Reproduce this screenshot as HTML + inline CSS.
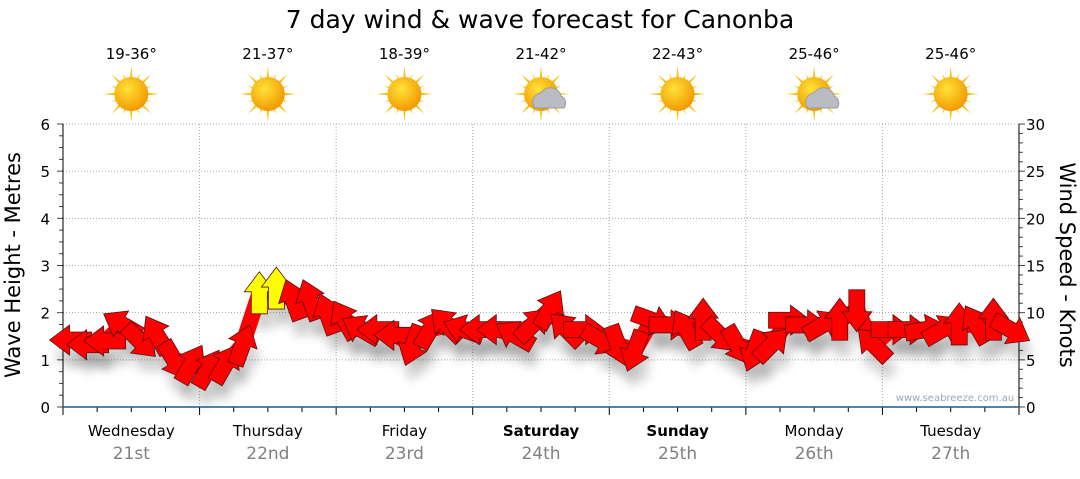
<!DOCTYPE html>
<html><head><meta charset="utf-8"><style>
body{margin:0;background:#fff;width:1080px;height:475px;overflow:hidden;font-family:"DejaVu Sans","Liberation Sans",sans-serif}
</style></head><body>
<svg id="c" width="1080" height="475">
<defs>
<filter id="sh" x="-50%" y="-50%" width="200%" height="200%"><feGaussianBlur stdDeviation="5"/></filter>
<radialGradient id="sun" cx="40%" cy="35%" r="65%"><stop offset="0" stop-color="#ffe23a"/><stop offset="1" stop-color="#f29a00"/></radialGradient>
</defs>
<text x="540" y="28" font-size="25" text-anchor="middle" fill="#000">7 day wind &amp; wave forecast for Canonba</text>
<g id="topg"></g>
<g id="grid"></g>
<g id="axes"></g>
<g id="marks"></g>
<text x="955" y="401" font-size="10" fill="#9aa8b8" text-anchor="middle">www.seabreeze.com.au</text>
<text transform="translate(20,265) rotate(-90)" font-size="21" text-anchor="middle" fill="#000">Wave Height - Metres</text>
<text transform="translate(1060,265) rotate(90)" font-size="21" text-anchor="middle" fill="#000">Wind Speed - Knots</text>
</svg>
<script>
const days=["Wednesday","Thursday","Friday","Saturday","Sunday","Monday","Tuesday"];
const dates=["21st","22nd","23rd","24th","25th","26th","27th"];
const temps=["19-36°","21-37°","18-39°","21-42°","22-43°","25-46°","25-46°"];
const cloudy=[0,0,0,1,0,1,0];
const boldDays=[0,0,0,1,1,0,0];
const waveTicks=[0,1,2,3,4,5,6];
const windTicks=[0,5,10,15,20,25,30];
// wind speed (knots), 3-hourly
const windSpeed=[7.1,6.6,7,8.7,7,7.6,5,4.5, 4,4.5,6.5,12,12.5,11.3,11.3,9.8, 9.2,8.2,8.2,7.6,6.6,8.2,8.7,8.2, 8.2,8.2,7.6,8.7,10.3,8.2,8.2,7.1, 6.6,6,9.2,8.7,8.2,9.2,7.6,6.6, 6,6.6,9.2,8.7,8.7,9.2,10.3,6.6, 8.2,8.2,8.2,8.2,8.7,8.7,9.2,8.2];
// direction of travel (degrees clockwise from up)
const windDir=[-90,-90,-90,-60,135,-30,150,30, 30,30,20,0,0,-20,-20,-20, -30,-60,-90,-90,200,30,-45,-70, -90,-90,-60,45,30,-45,90,120, 160,200,110,90,-30,0,135,150, 200,45,90,90,60,0,180,-45, 90,90,80,60,0,-30,0,120];
const X0=63,X1=1019,Y0=407,Y1=124;
const dayW=(X1-X0)/7;
const xT=h=>X0+h/168*(X1-X0);
const yWave=m=>Y0-m/6*(Y0-Y1);
const yWind=k=>Y0-k/30*(Y0-Y1);
const NS="http://www.w3.org/2000/svg";
function mk(tag,attrs,parent,txt){const e=document.createElementNS(NS,tag);for(const k in attrs)e.setAttribute(k,attrs[k]);if(txt!==undefined)e.textContent=txt;parent.appendChild(e);return e;}
const topG=document.getElementById('topg'),grid=document.getElementById('grid'),axes=document.getElementById('axes'),marks=document.getElementById('marks');
days.forEach((d,i)=>{
 const cx=X0+dayW*(i+0.5);
 const t=mk('text',{x:cx,y:59,'font-size':15,'text-anchor':'middle',fill:'#000'},topG,temps[i]);
 
 
 const g=mk('g',{transform:`translate(${cx},94)`},topG);
 
 
 for(let r=0;r<16;r++){const a=r*22.5,L=r%2?22:28;mk('polygon',{points:`-3,0 3,0 0,-${L}`,fill:'#f5c21a',transform:`rotate(${a})`},g);}
 mk('circle',{r:17,fill:'url(#sun)'},g);
 if(cloudy[i]){mk('path',{d:'M-6,14 a9,9 0 0 1 6,-15 a11,11 0 0 1 20,3 a8,8 0 0 1 3,12 z',fill:'#b9bcc2',stroke:'#9a9da3'},g);}
 const dn=mk('text',{x:cx,y:436,'font-size':15,'text-anchor':'middle',fill:'#000','font-weight':boldDays[i]?'bold':'normal'},axes,d);
 
 
 const dt=mk('text',{x:cx,y:459,'font-size':17,'text-anchor':'middle',fill:'#808080'},axes,dates[i]);
 
 
 if(i>0){const gl=mk('line',{x1:X0+dayW*i,x2:X0+dayW*i,y1:Y1,y2:Y0,stroke:'#aaa','stroke-dasharray':'1,2'},grid);
  
  }
});
for(let h=0;h<=168;h+=6){const x=xT(h);mk('line',{x1:x,x2:x,y1:Y0,y2:Y0+(h%24==0?8:5),stroke:'#000'},axes);}
waveTicks.forEach(m=>{const y=yWave(m);
 if(m>0){const gl=mk('line',{x1:X0,x2:X1,y1:y,y2:y,stroke:'#aaa','stroke-dasharray':'1,2'},grid);
  
  }
 const t=mk('text',{x:50,y:y+6,'font-size':15,'text-anchor':'end',fill:'#000'},axes,m);
 
 });
for(let m=0;m<=6.001;m+=0.25){const y=yWave(m);mk('line',{x1:X0-(Math.abs(m-Math.round(m))<0.01?6:4),x2:X0,y1:y,y2:y,stroke:'#444'},axes);}
windTicks.forEach(k=>{const y=yWind(k);
 const t=mk('text',{x:1026,y:y+6,'font-size':15,fill:'#000'},axes,k);
 
 });
for(let k=0;k<=30;k++){const y=yWind(k);mk('line',{x1:X1,x2:X1+(k%5==0?6:4),y1:y,y2:y,stroke:'#444'},axes);}
mk('line',{x1:X0,x2:X0,y1:Y1,y2:Y0,stroke:'#000'},axes);
mk('line',{x1:X1,x2:X1,y1:Y1,y2:Y0,stroke:'#000'},axes);
mk('line',{x1:X0,x2:X1,y1:Y0,y2:Y0,stroke:'#1f5a85','stroke-width':1.5},axes);
const arrow='M0,-22 L15,-2 L8,-2 L8,20 L-8,20 L-8,-2 L-15,-2 Z';
windSpeed.forEach((k,i)=>{const x=xT(i*3+1.5),y=yWind(k);
 mk('path',{d:arrow,fill:'#000','fill-opacity':0.18,filter:'url(#sh)',transform:`translate(${x+4},${y+16}) rotate(${windDir[i]})`},marks);});
windSpeed.forEach((k,i)=>{
 if(i>0){mk('line',{x1:xT(i*3-1.5),y1:yWind(windSpeed[i-1]),x2:xT(i*3+1.5),y2:yWind(k),stroke:'#ff0000','stroke-width':16},marks);}
});
windSpeed.forEach((k,i)=>{const x=xT(i*3+1.5),y=yWind(k);
 const p=mk('path',{d:arrow,fill:k>11.5?'#ffff00':'#ff0000',stroke:'#5a1010','stroke-width':0.8,transform:`translate(${x},${y}) rotate(${windDir[i]})`},marks);
 
 });
</script>
</body></html>
